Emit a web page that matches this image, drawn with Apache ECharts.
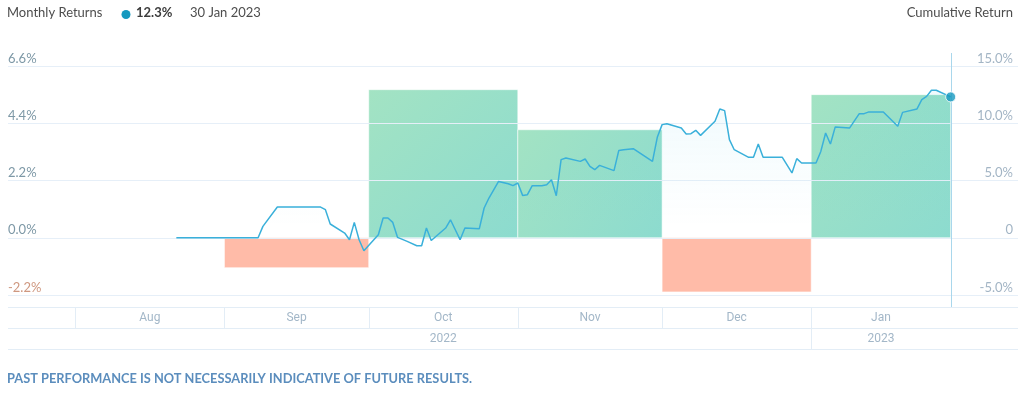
<!DOCTYPE html>
<html>
<head>
<meta charset="utf-8">
<script src="https://cdn.jsdelivr.net/npm/echarts@6/dist/echarts.min.js"></script>
<style>
html,body{margin:0;padding:0;background:#fff;}
#chart{width:1024px;height:395px;}
</style>
</head>
<body>
<div id="chart"></div>
<script>
// ---------------- data ----------------
const months = ['Aug', 'Sep', 'Oct', 'Nov', 'Dec', 'Jan'];
const monthStart = ['2022-08-01', '2022-09-01', '2022-10-01', '2022-11-01', '2022-12-01', '2023-01-01'];
const monthEnd = ['2022-09-01', '2022-10-01', '2022-11-01', '2022-12-01', '2023-01-01', '2023-01-30'];
const monthlyReturns = [null, -1.15, 5.69, 4.15, -2.08, 5.50];

const years = ['2022', '2023'];
const yearStart = ['2022-08-01', '2023-01-01'];
const yearEnd = ['2023-01-01', '2023-01-30'];

const cumDates = ['2022-08-22','2022-09-08','2022-09-09','2022-09-12','2022-09-21','2022-09-22','2022-09-23','2022-09-26','2022-09-27','2022-09-28','2022-09-29','2022-09-30','2022-10-03','2022-10-04','2022-10-05','2022-10-06','2022-10-07','2022-10-09','2022-10-11','2022-10-12','2022-10-13','2022-10-14','2022-10-17','2022-10-18','2022-10-19','2022-10-20','2022-10-21','2022-10-24','2022-10-25','2022-10-26','2022-10-28','2022-10-30','2022-10-31','2022-11-01','2022-11-02','2022-11-03','2022-11-04','2022-11-06','2022-11-07','2022-11-08','2022-11-09','2022-11-10','2022-11-11','2022-11-14','2022-11-15','2022-11-16','2022-11-17','2022-11-18','2022-11-21','2022-11-22','2022-11-23','2022-11-25','2022-11-29','2022-11-30','2022-12-01','2022-12-02','2022-12-05','2022-12-06','2022-12-07','2022-12-08','2022-12-09','2022-12-12','2022-12-13','2022-12-14','2022-12-15','2022-12-16','2022-12-19','2022-12-20','2022-12-21','2022-12-22','2022-12-26','2022-12-28','2022-12-29','2022-12-30','2023-01-02','2023-01-03','2023-01-04','2023-01-05','2023-01-06','2023-01-09','2023-01-11','2023-01-12','2023-01-13','2023-01-16','2023-01-19','2023-01-20','2023-01-23','2023-01-24','2023-01-25','2023-01-26','2023-01-27','2023-01-30'];
const cumValues = [0,0,0.99,2.68,2.68,2.45,1.20,0.41,-0.17,1.34,-0.17,-1.14,0.26,1.72,1.72,1.34,0.03,-0.32,-0.70,-0.70,0.85,-0.24,0.85,1.57,0.70,-0.17,0.85,0.79,2.60,3.47,4.92,4.72,4.55,4.78,3.70,3.76,4.55,4.55,4.63,5.07,3.67,6.82,6.97,6.67,6.88,6.23,5.94,6.32,5.86,7.63,7.69,7.78,6.67,8.77,9.88,9.96,9.59,9.06,9.09,9.38,8.94,10.17,11.25,11.10,8.57,7.69,7.02,7.02,8.19,7.02,7.02,5.66,6.91,6.53,6.53,7.54,9.15,8.19,9.68,9.59,10.84,10.84,10.99,10.99,9.73,10.95,11.25,12.06,12.35,12.88,12.88,12.30];

const leftTicks = [-2.2, 0, 2.2, 4.4, 6.6];
const rightTicks = [-5, 0, 5, 10, 15];
const axisRange = ['2022-07-18', '2023-02-13'];

// ---------------- helpers ----------------
function ts(s) {
  if (echarts.time && echarts.time.parse) return +echarts.time.parse(s);
  return +new Date(s + 'T00:00:00');
}
const monNames = ['Jan','Feb','Mar','Apr','May','Jun','Jul','Aug','Sep','Oct','Nov','Dec'];
const lastIdx = cumDates.length - 1;
const lastDate = new Date(ts(cumDates[lastIdx]));
const lastDateText = lastDate.getDate() + ' ' + monNames[lastDate.getMonth()] + ' ' + lastDate.getFullYear();
const lastValText = cumValues[lastIdx].toFixed(1) + '%';

const lineData = cumDates.map((d, i) => [ts(d), cumValues[i]]);
const barData = months.map((m, i) => [ts(monthStart[i]), ts(monthEnd[i]), monthlyReturns[i]]).filter(d => d[2] !== null);
const monthData = months.map((m, i) => [ts(monthStart[i]), ts(monthEnd[i]), i]);
const yearData = years.map((y, i) => [ts(yearStart[i]), ts(yearEnd[i]), i]);

const FONT = 'Lato, "Noto Sans", sans-serif';
const NARROW = '"Liberation Sans Narrow", "Roboto", sans-serif';
const lineCol = '#e3edf6';

const chart = echarts.init(document.getElementById('chart'), null, { renderer: 'canvas' });

const option = {
  animation: false,
  grid: { left: 8, right: 6, top: 66, bottom: 100, containLabel: false },
  xAxis: {
    type: 'time',
    min: ts(axisRange[0]),
    max: ts(axisRange[1]),
    axisLine: { show: false },
    axisTick: { show: false },
    axisLabel: { show: false },
    splitLine: { show: false }
  },
  yAxis: [
    {
      type: 'value',
      position: 'left',
      min: leftTicks[0],
      max: leftTicks[leftTicks.length - 1],
      interval: leftTicks[1] - leftTicks[0],
      z: 3,
      axisLine: { show: false },
      axisTick: { show: false },
      splitLine: { show: true, lineStyle: { color: '#e6eff8', width: 1 } },
      axisLabel: {
        inside: true,
        margin: 0,
        verticalAlign: 'bottom',
        padding: [0, 0, 1, 0],
        fontFamily: FONT,
        fontSize: 13,
        color: function (v) { return v < 0 ? '#cf9880' : '#7d98a6'; },
        formatter: function (v) { return v.toFixed(1) + '%'; }
      }
    },
    {
      type: 'value',
      position: 'right',
      min: rightTicks[0],
      max: rightTicks[rightTicks.length - 1],
      interval: rightTicks[1] - rightTicks[0],
      z: 3,
      axisLine: { show: false },
      axisTick: { show: false },
      splitLine: { show: false },
      axisLabel: {
        inside: true,
        margin: 5,
        verticalAlign: 'bottom',
        padding: [0, 0, 1, 0],
        fontFamily: FONT,
        fontSize: 13,
        color: '#a3b5c5',
        formatter: function (v) { return v === 0 ? '0' : v.toFixed(1) + '%'; }
      }
    }
  ],
  graphic: [
    { type: 'text', left: 7, top: 6, style: { text: 'Monthly Returns', font: '13px ' + FONT, fill: '#4d4d4d' } },
    { type: 'circle', shape: { cx: 126, cy: 14.5, r: 4.5 }, style: { fill: '#1699bf' } },
    { type: 'text', left: 136, top: 6, style: { text: lastValText, font: 'bold 13px ' + FONT, fill: '#3d3d3d' } },
    { type: 'text', left: 190, top: 6, style: { text: lastDateText, font: '13px ' + FONT, fill: '#4d4d4d' } },
    { type: 'text', right: 11, top: 6, style: { text: 'Cumulative Return', font: '13px ' + FONT, fill: '#4d4d4d' } },
    { type: 'text', left: 7, top: 372, style: { text: 'PAST PERFORMANCE IS NOT NECESSARILY INDICATIVE OF FUTURE RESULTS.', font: 'bold 12.8px ' + FONT, fill: '#5b8dbd' } }
  ],
  series: [
    {
      name: 'Monthly Returns',
      type: 'custom',
      yAxisIndex: 0,
      z: 2,
      data: barData,
      encode: { x: [0, 1], y: 2 },
      renderItem: function (params, api) {
        const p0 = api.coord([api.value(0), api.value(2)]);
        const p1 = api.coord([api.value(1), 0]);
        const v = api.value(2);
        const x = Math.min(p0[0], p1[0]), y = Math.min(p0[1], p1[1]);
        const w = Math.abs(p1[0] - p0[0]), h = Math.abs(p1[1] - p0[1]);
        const fill = v >= 0
          ? new echarts.graphic.LinearGradient(0, 0, 1, 1, [
              { offset: 0, color: '#a3e3c3' },
              { offset: 1, color: '#8cdbcf' }
            ])
          : '#ffbba8';
        return {
          type: 'rect',
          shape: { x: x, y: y, width: w, height: h },
          style: { fill: fill, stroke: 'rgba(255,255,255,0.55)', lineWidth: 1 }
        };
      }
    },
    {
      name: 'Cumulative Return',
      type: 'line',
      yAxisIndex: 1,
      z: 4,
      data: lineData,
      showSymbol: false,
      symbol: 'none',
      lineStyle: { color: '#3ab0da', width: 1.5 },
      areaStyle: {
        color: new echarts.graphic.LinearGradient(0, 0, 0, 1, [
          { offset: 0, color: 'rgba(40,190,225,0.10)' },
          { offset: 0.85, color: 'rgba(40,190,225,0.0)' }
        ])
      }
    },
    {
      name: 'cursor',
      type: 'custom',
      yAxisIndex: 1,
      z: 5,
      data: [[ts(cumDates[lastIdx]), cumValues[lastIdx]]],
      renderItem: function (params, api) {
        const cs = params.coordSys;
        const p = api.coord([api.value(0), api.value(1)]);
        return {
          type: 'line',
          shape: { x1: Math.round(p[0]) + 0.5, y1: cs.y - 13, x2: Math.round(p[0]) + 0.5, y2: cs.y + cs.height + 12 },
          style: { stroke: '#a9d7ec', lineWidth: 1 }
        };
      }
    },
    {
      name: 'last',
      type: 'scatter',
      yAxisIndex: 1,
      z: 6,
      data: [[ts(cumDates[lastIdx]), cumValues[lastIdx]]],
      symbolSize: 10,
      itemStyle: { color: '#1699bf', borderColor: '#ffffff', borderWidth: 1 }
    },
    {
      name: 'monthAxis',
      type: 'custom',
      yAxisIndex: 0,
      z: 2,
      clip: false,
      data: monthData,
      encode: { x: [0, 1] },
      renderItem: function (params, api) {
        const cs = params.coordSys;
        const base = cs.y + cs.height;
        const x0 = api.coord([api.value(0), 0])[0];
        const x1 = api.coord([api.value(1), 0])[0];
        const idx = api.value(2);
        const children = [
          { type: 'line', shape: { x1: Math.round(x0) + 0.5, y1: base + 12, x2: Math.round(x0) + 0.5, y2: base + 33 }, style: { stroke: lineCol, lineWidth: 1 } },
          { type: 'text', style: { x: (x0 + x1) / 2, y: base + 23, text: months[idx], font: '12px ' + NARROW, fill: '#a3b7c8', align: 'center', verticalAlign: 'middle' } }
        ];
        if (params.dataIndex === 0) {
          [12, 33, 54].forEach(function (off) {
            children.push({ type: 'line', shape: { x1: cs.x, y1: base + off + 0.5, x2: cs.x + cs.width, y2: base + off + 0.5 }, style: { stroke: lineCol, lineWidth: 1 } });
          });
        }
        return { type: 'group', children: children };
      }
    },
    {
      name: 'yearAxis',
      type: 'custom',
      yAxisIndex: 0,
      z: 2,
      clip: false,
      data: yearData,
      encode: { x: [0, 1] },
      renderItem: function (params, api) {
        const cs = params.coordSys;
        const base = cs.y + cs.height;
        const x0 = api.coord([api.value(0), 0])[0];
        const x1 = api.coord([api.value(1), 0])[0];
        const idx = api.value(2);
        const children = [
          { type: 'text', style: { x: (x0 + x1) / 2, y: base + 44, text: years[idx], font: '12px ' + NARROW, fill: '#a3b7c8', align: 'center', verticalAlign: 'middle' } }
        ];
        if (idx > 0) {
          children.push({ type: 'line', shape: { x1: Math.round(x0) + 0.5, y1: base + 33, x2: Math.round(x0) + 0.5, y2: base + 54 }, style: { stroke: lineCol, lineWidth: 1 } });
        }
        return { type: 'group', children: children };
      }
    }
  ]
};
chart.setOption(option);
</script>
</body>
</html>
